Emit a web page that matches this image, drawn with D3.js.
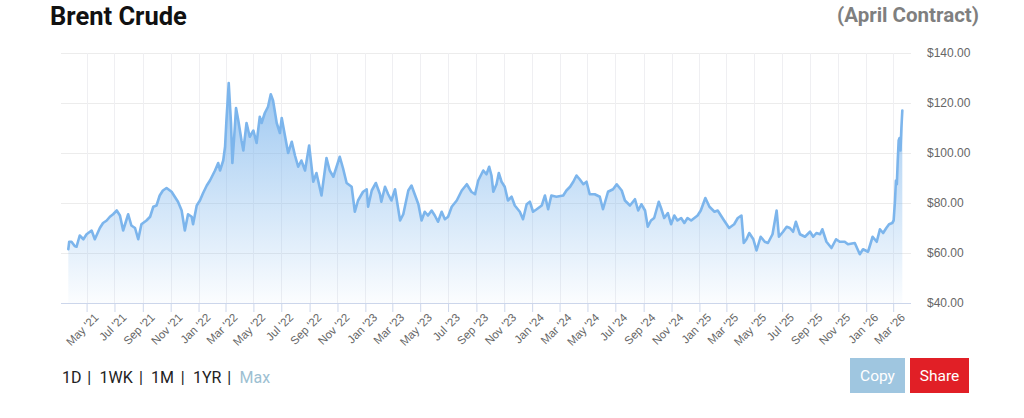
<!DOCTYPE html>
<html>
<head>
<meta charset="utf-8">
<script src="https://cdn.jsdelivr.net/npm/d3@7"></script>
<style>
  html, body { margin: 0; padding: 0; background: #fff; }
  svg { display: block; font-family: Roboto, "Noto Sans", sans-serif; }
</style>
</head>
<body>
<svg id="chart" width="1024" height="418"></svg>
<script>
// ---------------- DATA ----------------
const title = "Brent Crude";
const subtitle = "(April Contract)";
const rangeButtons = ["1D", "1WK", "1M", "1YR", "Max"];
const actionButtons = ["Copy", "Share"];

const yTicks = [40, 60, 80, 100, 120, 140];
const xTickDates = ["2021-05-01","2021-07-01","2021-09-01","2021-11-01","2022-01-01","2022-03-01","2022-05-01","2022-07-01","2022-09-01","2022-11-01","2023-01-01","2023-03-01","2023-05-01","2023-07-01","2023-09-01","2023-11-01","2024-01-01","2024-03-01","2024-05-01","2024-07-01","2024-09-01","2024-11-01","2025-01-01","2025-03-01","2025-05-01","2025-07-01","2025-09-01","2025-11-01","2026-01-01","2026-03-01"];
const xTickLabels = ["May '21","Jul '21","Sep '21","Nov '21","Jan '22","Mar '22","May '22","Jul '22","Sep '22","Nov '22","Jan '23","Mar '23","May '23","Jul '23","Sep '23","Nov '23","Jan '24","Mar '24","May '24","Jul '24","Sep '24","Nov '24","Jan '25","Mar '25","May '25","Jul '25","Sep '25","Nov '25","Jan '26","Mar '26"];
const xDomain = ["2021-03-06", "2026-04-09"];

const dates = [
"2021-03-22","2021-03-24","2021-03-29","2021-04-05","2021-04-09","2021-04-16","2021-04-24","2021-05-01","2021-05-12","2021-05-19","2021-05-30","2021-06-06","2021-06-14","2021-06-21","2021-06-28","2021-07-06","2021-07-13","2021-07-20","2021-07-31","2021-08-07","2021-08-15","2021-08-22","2021-08-29","2021-09-09","2021-09-17","2021-09-24","2021-10-01","2021-10-08","2021-10-15","2021-10-23","2021-11-03","2021-11-10","2021-11-17","2021-11-25","2021-12-02","2021-12-09","2021-12-17","2021-12-20","2021-12-28",
"2022-01-04","2022-01-11","2022-01-19","2022-01-26","2022-02-06","2022-02-13","2022-02-17","2022-02-24","2022-02-28","2022-03-03","2022-03-08","2022-03-13","2022-03-16","2022-03-20","2022-03-24","2022-03-29","2022-04-05","2022-04-09","2022-04-16","2022-04-23","2022-05-01","2022-05-08","2022-05-15","2022-05-19","2022-05-26","2022-06-02","2022-06-08","2022-06-13","2022-06-21","2022-06-28","2022-07-02","2022-07-09","2022-07-16","2022-07-24","2022-07-31","2022-08-07","2022-08-14","2022-08-22","2022-08-31","2022-09-09","2022-09-16","2022-09-27","2022-10-08","2022-10-15","2022-10-23","2022-11-06","2022-11-13","2022-11-21","2022-12-02","2022-12-09","2022-12-16","2022-12-27",
"2023-01-04","2023-01-07","2023-01-15","2023-01-24","2023-02-02","2023-02-05","2023-02-13","2023-02-20","2023-02-27","2023-03-07","2023-03-18","2023-03-25","2023-04-05","2023-04-12","2023-04-19","2023-04-27","2023-05-04","2023-05-11","2023-05-18","2023-05-26","2023-06-02","2023-06-09","2023-06-17","2023-06-24","2023-07-01","2023-07-09","2023-07-20","2023-07-31","2023-08-11","2023-08-21","2023-08-29","2023-09-05","2023-09-16","2023-09-23","2023-09-29","2023-10-04","2023-10-08","2023-10-15","2023-10-20","2023-10-26","2023-11-02","2023-11-09","2023-11-17","2023-11-24","2023-12-05","2023-12-12","2023-12-20","2023-12-27",
"2024-01-03","2024-01-11","2024-01-22","2024-01-29","2024-02-05","2024-02-12","2024-02-23","2024-03-09","2024-03-16","2024-03-24","2024-03-31","2024-04-07","2024-04-14","2024-04-22","2024-04-29","2024-05-06","2024-05-17","2024-05-28","2024-06-04","2024-06-15","2024-06-26","2024-07-04","2024-07-15","2024-07-22","2024-08-02","2024-08-13","2024-08-20","2024-08-27","2024-09-04","2024-09-10","2024-09-17","2024-09-24","2024-10-04","2024-10-09","2024-10-16","2024-10-24","2024-10-31","2024-11-07","2024-11-14","2024-11-22","2024-11-29","2024-12-06","2024-12-14","2024-12-21","2024-12-28",
"2025-01-04","2025-01-14","2025-01-23","2025-02-03","2025-02-10","2025-02-17","2025-02-24","2025-03-07","2025-03-18","2025-03-26","2025-04-03","2025-04-08","2025-04-14","2025-04-20","2025-04-29","2025-05-06","2025-05-15","2025-05-24","2025-05-31","2025-06-10","2025-06-19","2025-06-24","2025-07-03","2025-07-11","2025-07-18","2025-07-25","2025-07-31","2025-08-09","2025-08-20","2025-08-31","2025-09-07","2025-09-14","2025-09-22","2025-09-27","2025-10-06","2025-10-17","2025-10-27","2025-11-04","2025-11-15","2025-11-22","2025-12-07","2025-12-18","2025-12-25",
"2026-01-05","2026-01-15","2026-01-24","2026-01-31","2026-02-07","2026-02-14","2026-02-20","2026-02-27","2026-03-02","2026-03-05","2026-03-07","2026-03-09","2026-03-11","2026-03-13","2026-03-15","2026-03-17","2026-03-19","2026-03-21"
];
const prices = [
61.5,64.5,64.5,62.8,62.5,67,65.5,67.5,69,65.5,70,72,73,74.5,75.5,77,75,69,75.5,71,70,65.5,71.5,73,74.5,78.5,79,83,85,86,84.5,82.5,80.5,77,69,75.5,74.5,71.5,79,
81,84,87,89,93,96,93,97,102.5,113,128,112,96,106.5,118,113,105,101,112,106.5,109,104,114.5,112,116,118.5,123.5,121,112,108,114,107,100,104.5,99,94.5,97,93,103,88.5,92,83,98,93,90.5,98.5,94,88,86.5,76.5,81,84.5,
85.5,78.5,85,88,83.5,80.5,86.5,83.5,81,85.5,73,75.5,85,87,83.5,79.5,73,76.5,75,77,75,72.5,76.5,73.5,74.5,78.5,81,85,87.5,84.5,83.5,89,93,91.5,94.5,91,84.5,87.5,92,88.5,86.5,81,82.5,79,76.5,73.5,79.5,80.5,
76.5,77.5,79,83,77.5,83,82.5,83,85,86.5,88.5,91,89.5,87.5,88.5,83.5,83.5,82.5,77.5,84.5,85.5,87.5,85,81,79,81.5,77,79.5,77,70.5,73,74,80.5,78,74,76,71.5,75,73,74,72,74,73,74,75,
77,82,78.5,76.5,77,75,73,70,71.5,74,75,64,65.5,68,65.5,61,66.5,64.5,64,67.5,77,66.5,68.5,70.5,70,68.5,72.5,67.5,66.5,68.5,66.5,68,67.5,69.5,64.5,62,65.5,64.5,64.5,63.5,64,59.5,61.5,
60.5,66.5,64.5,69.5,68,70,71.5,72,73,81,89,87.5,97,105,106,101,110,117
];

// ---------------- LAYOUT ----------------
const plot = { left: 61, right: 911, top: 53, bottom: 303 };

const svg = d3.select("#chart");
const parse = d3.timeParse("%Y-%m-%d");
const data = dates.map((d, i) => ({ date: parse(d), value: prices[i] }));

const x = d3.scaleTime().domain(xDomain.map(parse)).range([plot.left, plot.right]);
const y = d3.scaleLinear().domain([40, 140]).range([plot.bottom, plot.top]);

// gradient
const defs = svg.append("defs");
const grad = defs.append("linearGradient")
  .attr("id", "areaGrad").attr("gradientUnits", "userSpaceOnUse")
  .attr("x1", 0).attr("x2", 0)
  .attr("y1", y(d3.max(prices))).attr("y2", plot.bottom);
grad.append("stop").attr("offset", "0%").attr("stop-color", "#7cb5ec").attr("stop-opacity", 0.75);
grad.append("stop").attr("offset", "100%").attr("stop-color", "#7cb5ec").attr("stop-opacity", 0.03);

// horizontal grid
svg.append("g").selectAll("line").data(yTicks.filter(v => v !== 40)).join("line")
  .attr("x1", plot.left).attr("x2", plot.right)
  .attr("y1", d => Math.round(y(d)) + 0.5).attr("y2", d => Math.round(y(d)) + 0.5)
  .attr("stroke", "#ececec").attr("stroke-width", 1);

// vertical grid
const tickDates = xTickDates.map(parse);
svg.append("g").selectAll("line").data(tickDates).join("line")
  .attr("x1", d => Math.round(x(d)) + 0.5).attr("x2", d => Math.round(x(d)) + 0.5)
  .attr("y1", plot.top).attr("y2", plot.bottom)
  .attr("stroke", "#efeff2").attr("stroke-width", 1);

// area + line
const area = d3.area().x(d => x(d.date)).y0(plot.bottom).y1(d => y(d.value)).curve(d3.curveLinear);
const line = d3.line().x(d => x(d.date)).y(d => y(d.value)).curve(d3.curveLinear);

svg.append("path").datum(data).attr("d", area).attr("fill", "url(#areaGrad)");
svg.append("path").datum(data).attr("d", line)
  .attr("fill", "none").attr("stroke", "#7cb5ec").attr("stroke-width", 2.6)
  .attr("stroke-linejoin", "round").attr("stroke-linecap", "round");

// x axis
const xAxis = d3.axisBottom(x)
  .tickValues(tickDates)
  .tickFormat((d, i) => xTickLabels[i])
  .tickSize(9).tickSizeOuter(0);
const gx = svg.append("g").attr("transform", `translate(0,${plot.bottom})`).call(xAxis);
gx.select(".domain").attr("stroke", "#ccd6eb").attr("d", `M${plot.left},0.5H${plot.right}`);
gx.selectAll(".tick line").attr("stroke", "#ccd6eb");
gx.selectAll(".tick text")
  .attr("fill", "#666").style("font-size", "11.5px")
  .attr("text-anchor", "end")
  .attr("transform", "translate(3,6) rotate(-45)")
  .attr("dy", "0.35em").attr("y", 9).attr("x", 0);

// y axis (right)
const yAxis = d3.axisRight(y).tickValues(yTicks).tickFormat(d => "$" + d3.format(".2f")(d)).tickSize(0);
const gy = svg.append("g").attr("transform", `translate(${plot.right + 16},0)`).call(yAxis);
gy.select(".domain").remove();
gy.selectAll(".tick text").attr("fill", "#666").style("font-size", "12px").attr("x", 0);

// title
svg.append("text").attr("x", 50).attr("y", 25)
  .style("font-size", "25.5px").style("font-weight", "bold").attr("fill", "#111").text(title);
svg.append("text").attr("x", 979).attr("y", 22).attr("text-anchor", "end")
  .style("font-size", "20.5px").style("font-weight", "bold").attr("fill", "#7f7f7f").text(subtitle);

// range selector
const rsX = [62, 99.5, 151, 193, 239.5];
const sepX = [89.3, 141, 182.7, 229.3];
const rs = svg.append("g").style("font-size", "16px");
rs.selectAll("text.item").data(rangeButtons).join("text").attr("class", "item")
  .attr("x", (d, i) => rsX[i]).attr("y", 383)
  .attr("fill", (d, i) => i === rangeButtons.length - 1 ? "#9dbfd2" : "#222").text(d => d);
rs.selectAll("text.sep").data(sepX).join("text").attr("class", "sep")
  .attr("x", d => d).attr("y", 383).attr("text-anchor", "middle").attr("fill", "#222").text("|");

// action buttons
const btnX = [850, 910], btnW = [55, 59], btnFill = ["#9fc6e0", "#e11f26"];
actionButtons.forEach((b, i) => {
  svg.append("rect").attr("x", btnX[i]).attr("y", 358).attr("width", btnW[i]).attr("height", 35).attr("fill", btnFill[i]);
  svg.append("text").attr("x", btnX[i] + btnW[i] / 2).attr("y", 381).attr("text-anchor", "middle")
    .style("font-size", "15.5px").attr("fill", "#fff").text(b);
});
</script>
</body>
</html>
